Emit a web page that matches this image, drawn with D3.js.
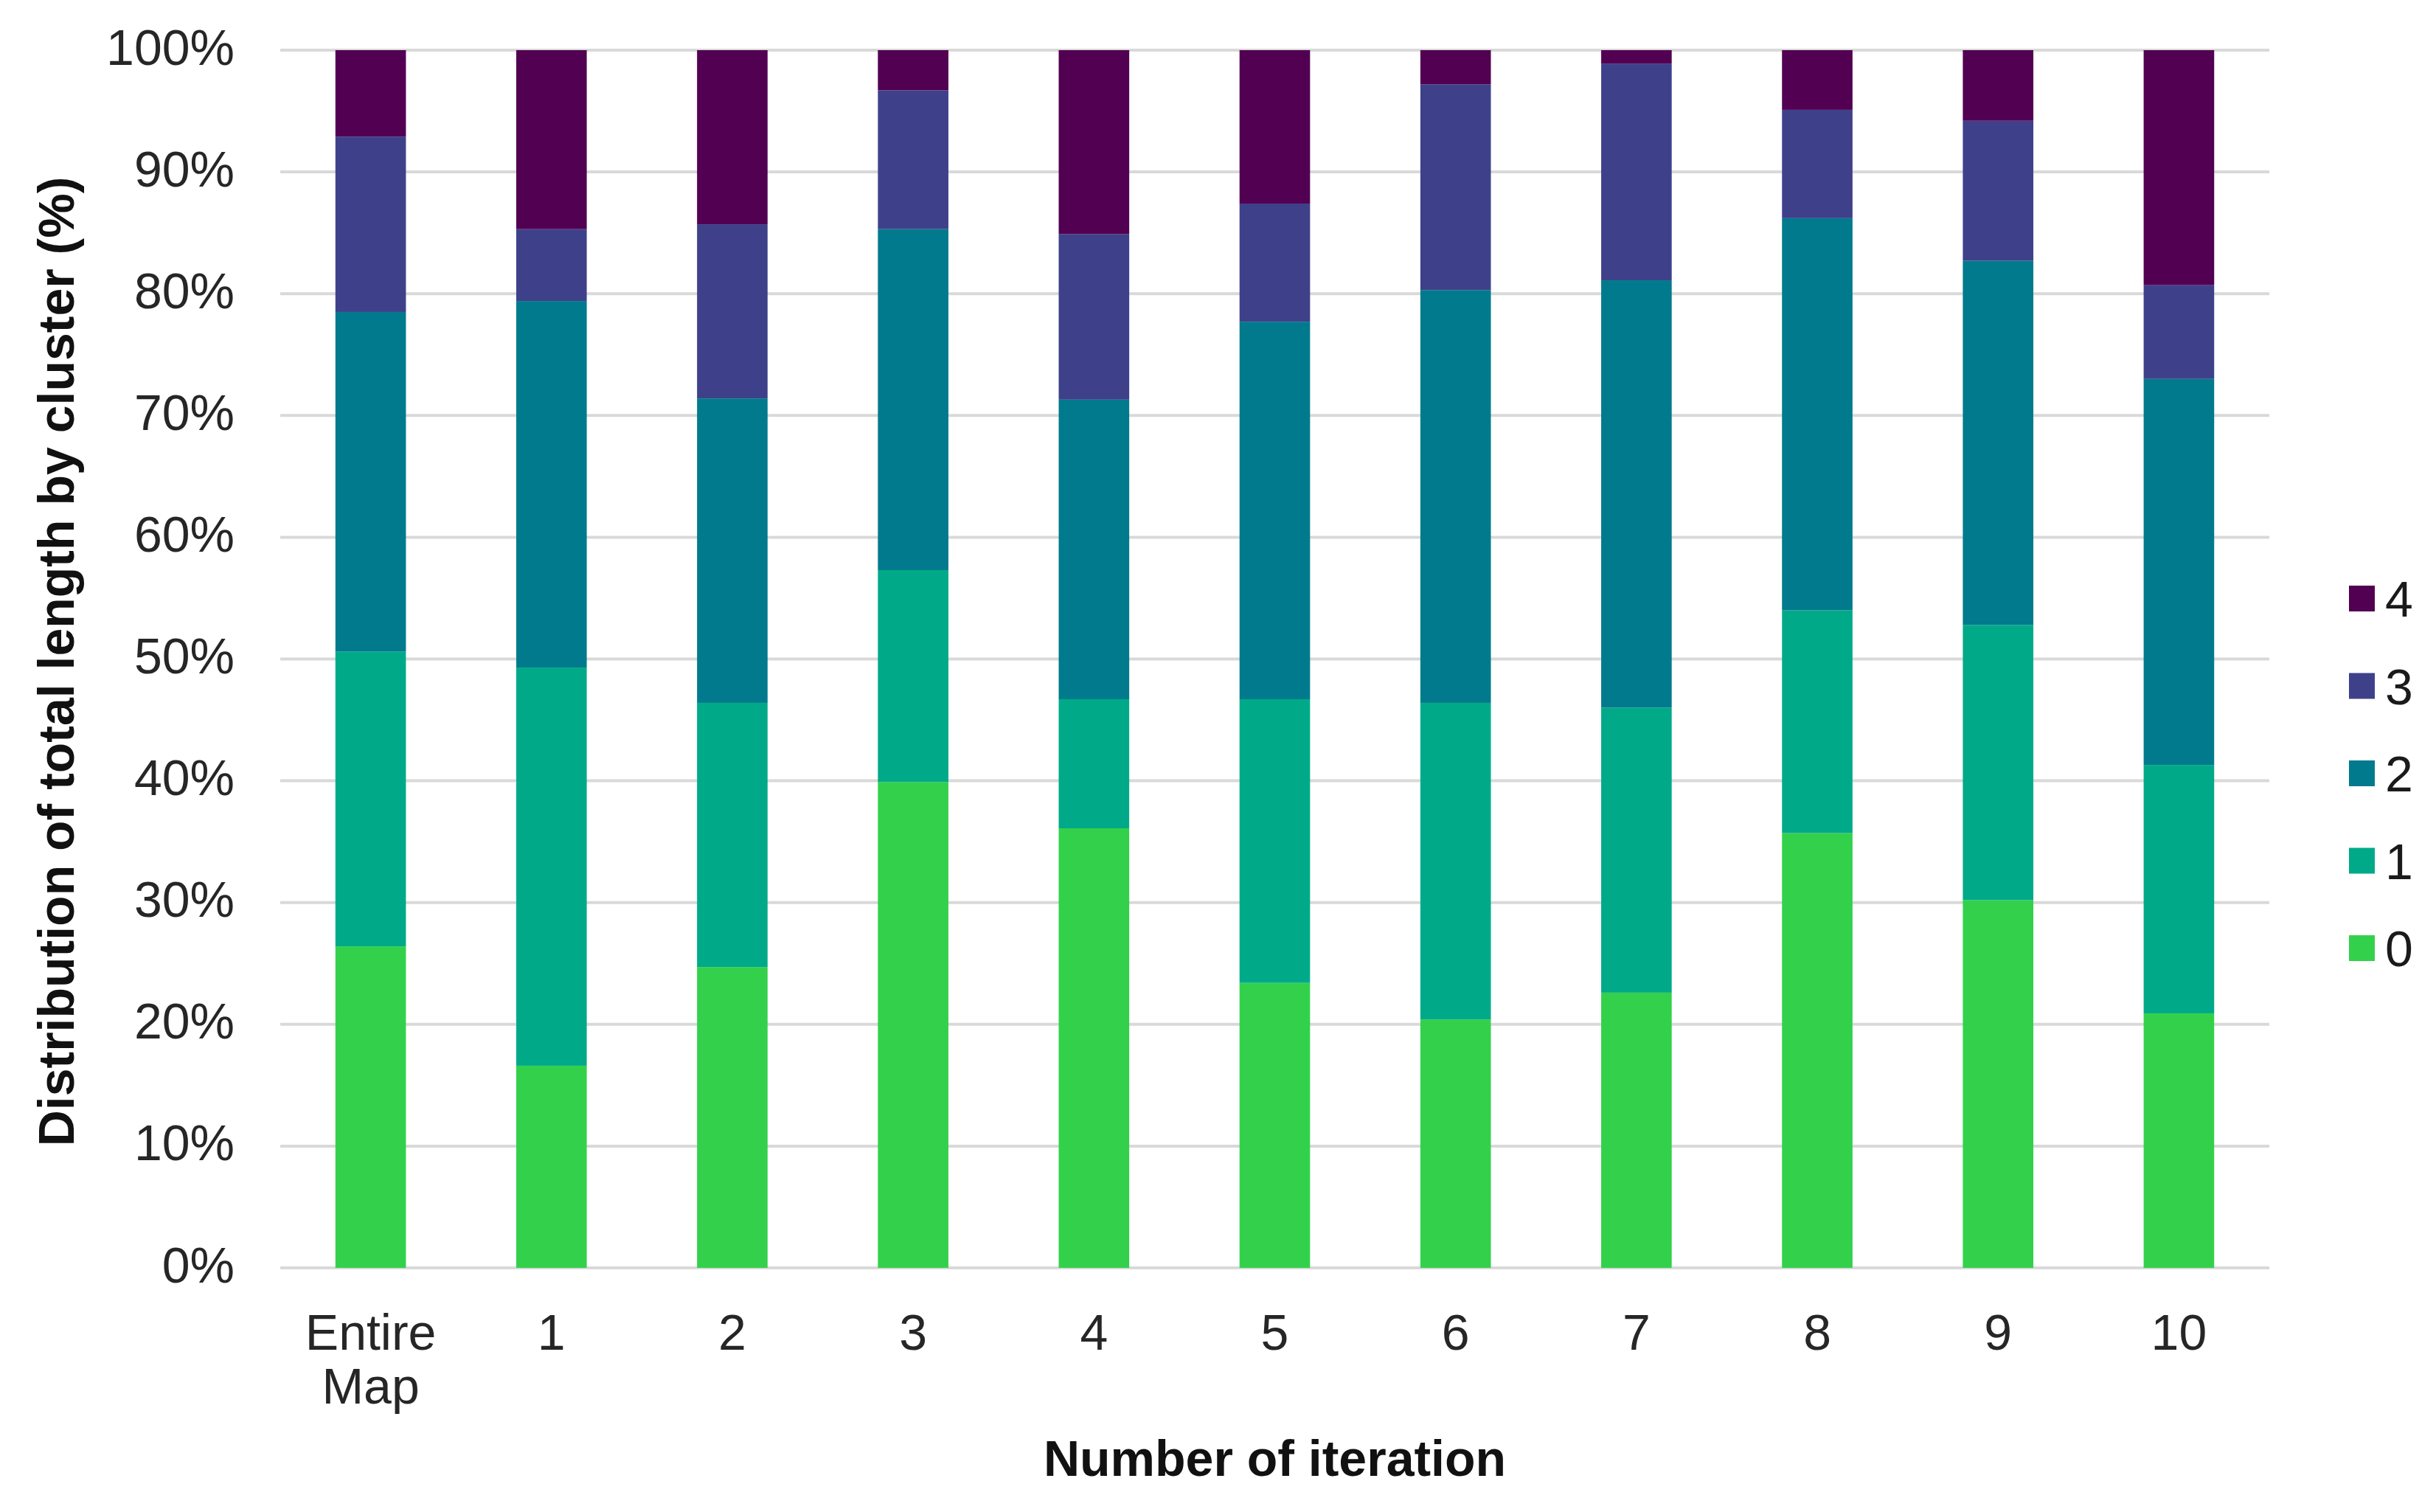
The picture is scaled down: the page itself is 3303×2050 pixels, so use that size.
<!DOCTYPE html>
<html>
<head>
<meta charset="utf-8">
<script src="https://cdn.jsdelivr.net/npm/d3@7"></script>
<style>
  body { margin: 0; background: #fff; }
  text { font-family: "Liberation Sans", Arial, sans-serif; }
</style>
</head>
<body>
<svg id="chart" width="3303" height="2050"></svg>
<script>
// categories on the x axis
var categories = ['Entire Map', '1', '2', '3', '4', '5', '6', '7', '8', '9', '10'];
// share of total length (%) per cluster, one array per cluster
var cluster0 = [26.4, 16.6, 24.7, 39.9, 36.1, 23.4, 20.4, 22.6, 35.7, 30.2, 20.9];
var cluster1 = [24.2, 32.7, 21.7, 17.4, 10.6, 23.3, 26.0, 23.4, 18.3, 22.6, 20.4];
var cluster2 = [27.9, 30.1, 25.0, 28.0, 24.6, 31.0, 33.9, 35.1, 32.2, 29.9, 31.7];
var cluster3 = [14.4, 5.9, 14.3, 11.4, 13.6, 9.7, 16.9, 17.8, 8.9, 11.5, 7.7];
var cluster4 = [7.1, 14.7, 14.3, 3.3, 15.1, 12.6, 2.8, 1.1, 4.9, 5.8, 19.3];
var clusterNames = ['0', '1', '2', '3', '4'];
var yTicks = [0, 10, 20, 30, 40, 50, 60, 70, 80, 90, 100];

var colors = ['#33d14b', '#00aa88', '#007a8c', '#3e418a', '#520052'];

var svg = d3.select('#chart');
var margin = {left: 380, right: 3077, top: 68, bottom: 1719};

// build table rows for the stack
var series = [cluster0, cluster1, cluster2, cluster3, cluster4];
var rows = categories.map(function(c, i) {
  var r = {cat: c};
  clusterNames.forEach(function(k, j) { r[k] = series[j][i]; });
  return r;
});
var stacked = d3.stack().keys(clusterNames)(rows);

var x = d3.scaleBand().domain(categories).range([margin.left, margin.right]).padding(0);
var y = d3.scaleLinear().domain([0, 100]).range([margin.bottom, margin.top]);
var barW = x.bandwidth() * 0.39;

// gridlines
svg.append('g')
  .selectAll('line')
  .data(yTicks)
  .enter().append('line')
  .attr('x1', margin.left).attr('x2', margin.right)
  .attr('y1', function(d) { return y(d); })
  .attr('y2', function(d) { return y(d); })
  .attr('stroke', '#d9d9d9')
  .attr('stroke-width', 4);

// y axis labels
var yAxis = svg.append('g')
  .attr('transform', 'translate(318,0)')
  .call(d3.axisLeft(y).tickValues(yTicks).tickSize(0).tickPadding(0)
    .tickFormat(function(d) { return d + '%'; }));
yAxis.select('.domain').remove();
yAxis.selectAll('text')
  .attr('font-size', 68)
  .attr('font-family', '"Liberation Sans", Arial, sans-serif')
  .attr('fill', '#262626')
  .attr('dy', '0.28em');

// bars
svg.append('g')
  .selectAll('g')
  .data(stacked)
  .enter().append('g')
  .attr('fill', function(d, i) { return colors[i]; })
  .selectAll('rect')
  .data(function(d) { return d; })
  .enter().append('rect')
  .attr('x', function(d) { return x(d.data.cat) + (x.bandwidth() - barW) / 2; })
  .attr('y', function(d) { return y(d[1]); })
  .attr('width', barW)
  .attr('height', function(d) { return y(d[0]) - y(d[1]); });

// x axis labels
var xAxis = svg.append('g')
  .attr('transform', 'translate(0,' + margin.bottom + ')')
  .call(d3.axisBottom(x).tickSize(0).tickPadding(0));
xAxis.select('.domain').remove();
xAxis.selectAll('text')
  .attr('font-size', 68)
  .attr('font-family', '"Liberation Sans", Arial, sans-serif')
  .attr('fill', '#262626')
  .attr('dy', null)
  .attr('y', 111)
  .each(function(d) {
    var words = d.split(' ');
    if (words.length > 1) {
      var t = d3.select(this).text(null);
      words.forEach(function(w, i) {
        t.append('tspan').attr('x', 0).attr('dy', i === 0 ? 0 : 73).text(w);
      });
    }
  });

// axis titles
svg.append('text')
  .attr('x', (margin.left + margin.right) / 2)
  .attr('y', 2001)
  .attr('text-anchor', 'middle')
  .attr('font-size', 68)
  .attr('font-weight', 'bold')
  .attr('fill', '#111')
  .text('Number of iteration');

svg.append('text')
  .attr('transform', 'translate(100,' + 897 + ') rotate(-90)')
  .attr('text-anchor', 'middle')
  .attr('font-size', 68)
  .attr('font-weight', 'bold')
  .attr('fill', '#111')
  .text('Distribution of total length by cluster (%)');

// legend, top entry is cluster 4
var legend = svg.append('g')
  .selectAll('g')
  .data(clusterNames.slice().reverse())
  .enter().append('g')
  .attr('transform', function(d, i) { return 'translate(3185,' + (811 + i * 118.5) + ')'; });
legend.append('rect')
  .attr('x', 0).attr('y', -17)
  .attr('width', 35).attr('height', 35)
  .attr('fill', function(d) { return colors[+d]; });
legend.append('text')
  .attr('x', 49).attr('y', 25)
  .attr('font-size', 68)
  .attr('fill', '#1a1a1a')
  .text(function(d) { return d; });
</script>
</body>
</html>
